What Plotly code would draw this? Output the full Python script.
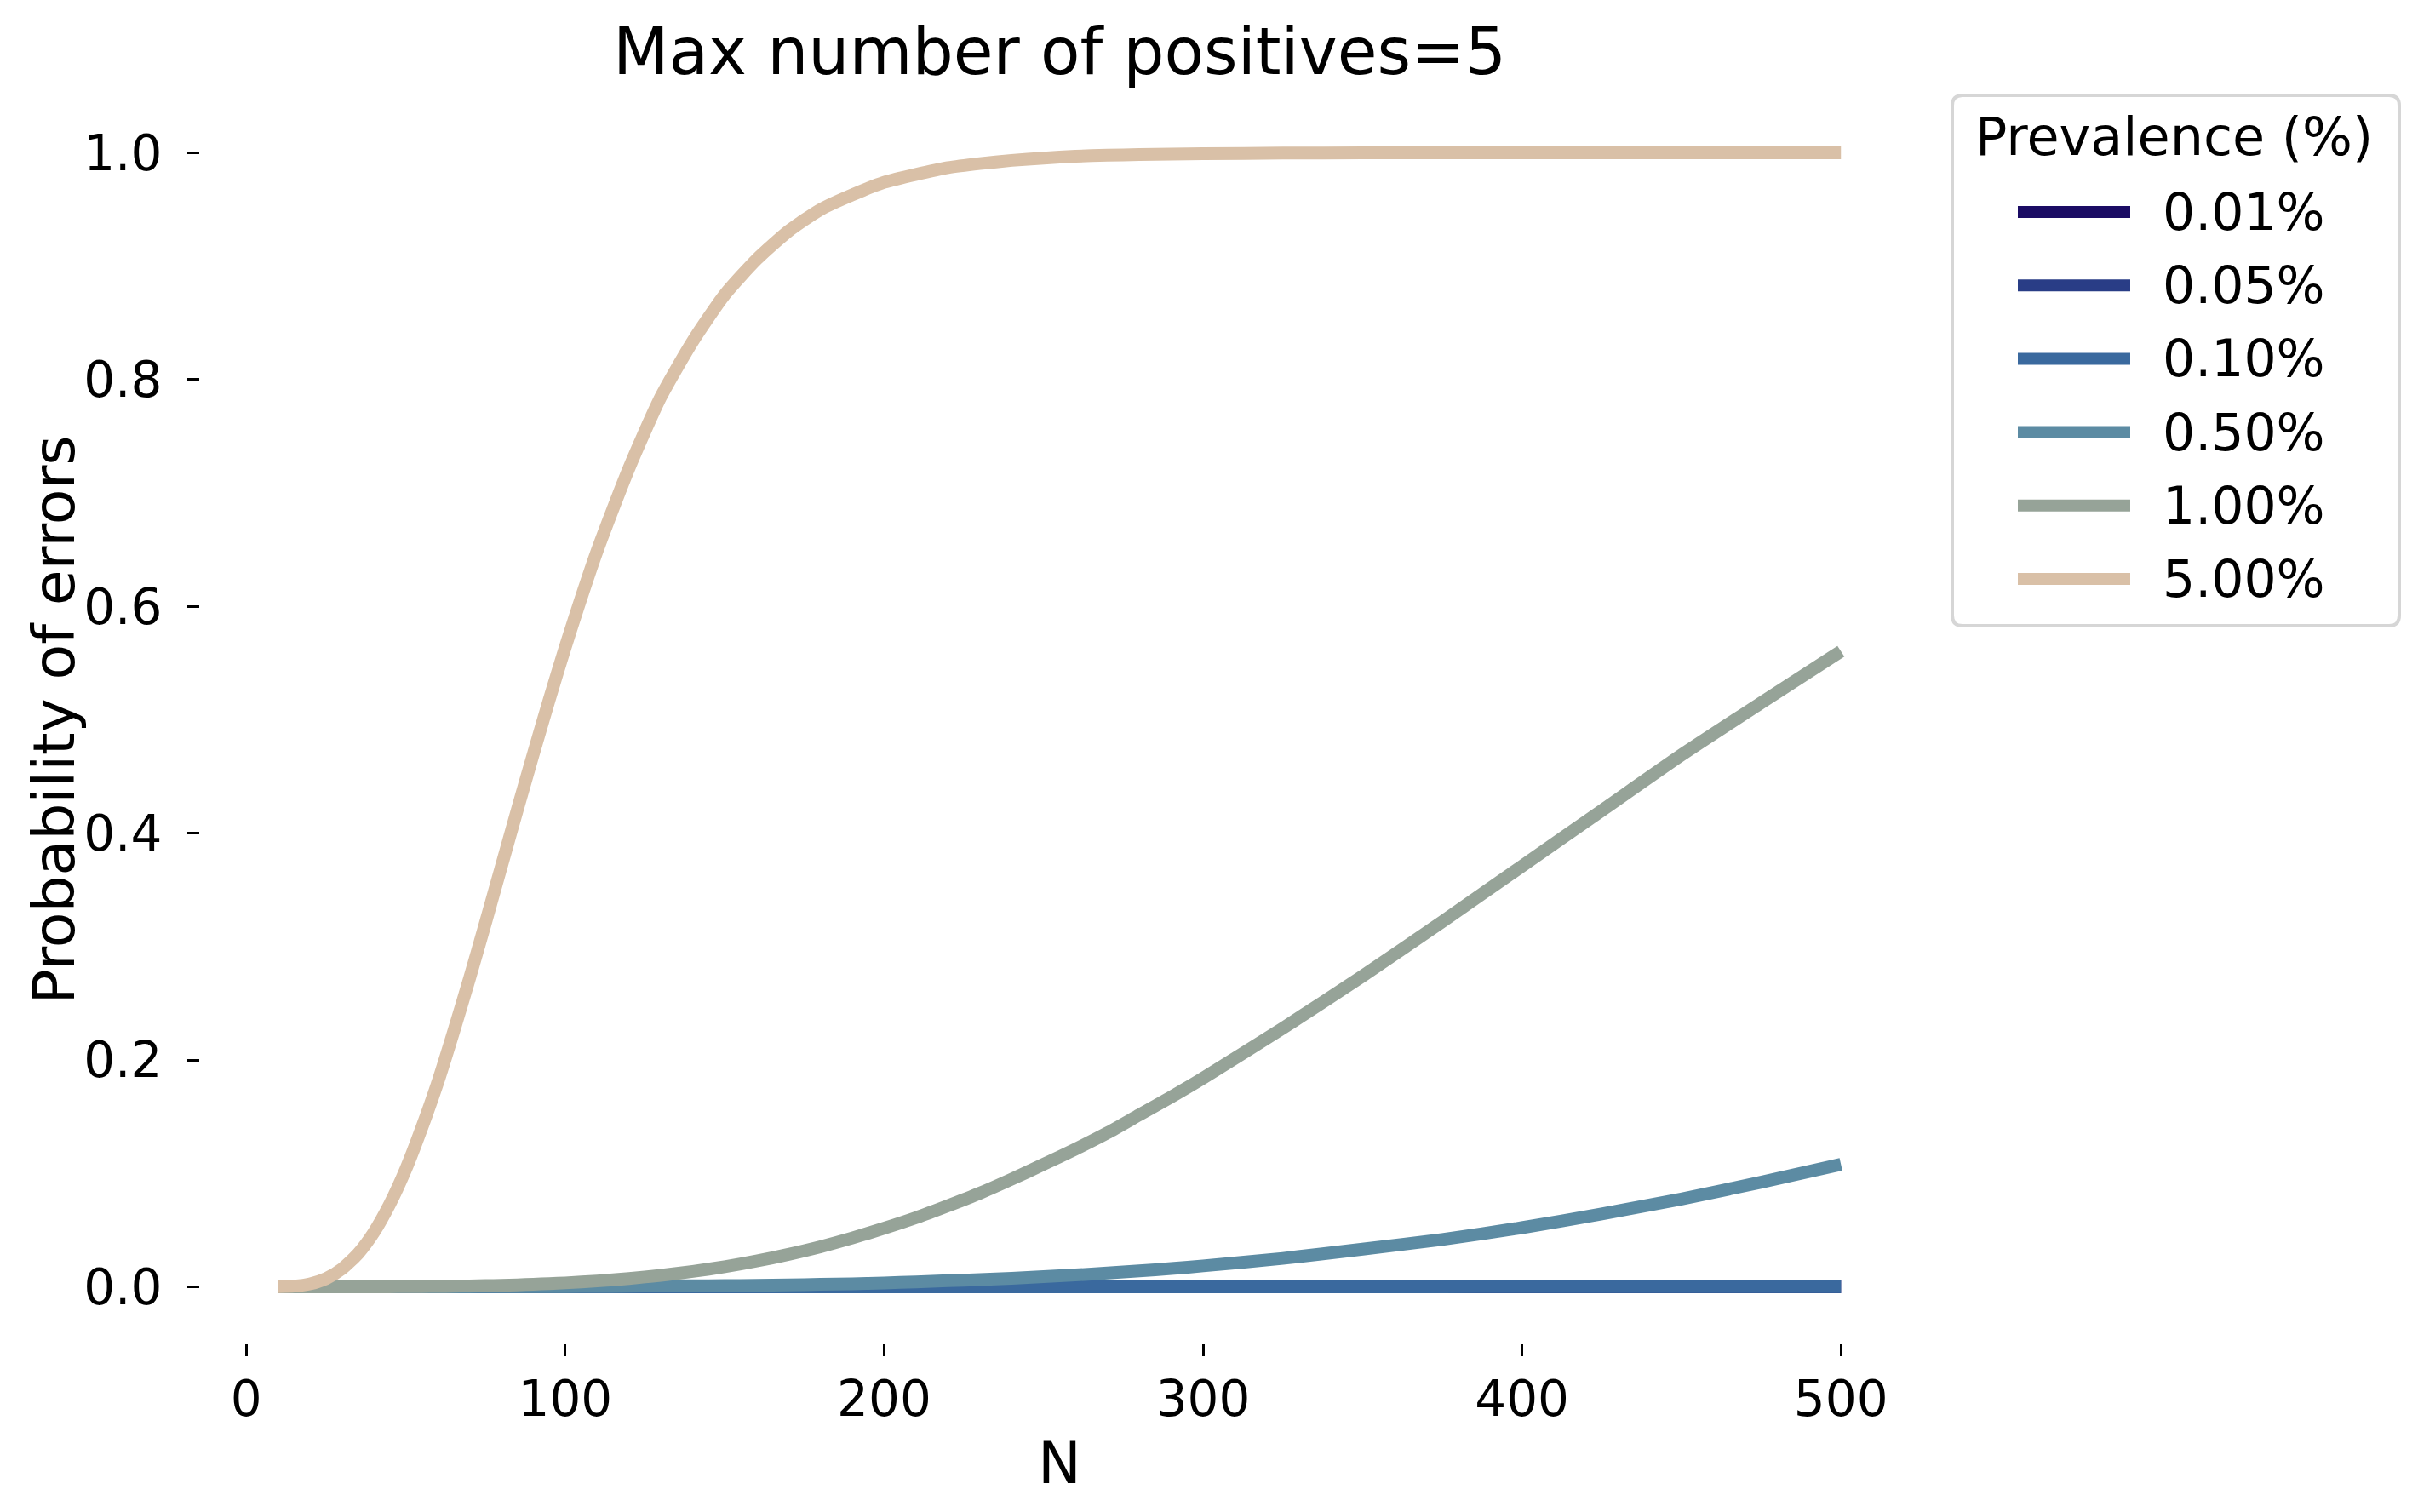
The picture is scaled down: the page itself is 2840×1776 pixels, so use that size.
import plotly.graph_objects as go

# sample sizes N (shared by all series)
n_values = [10, 15, 20, 25, 30, 35, 40, 45, 50, 55, 60, 65, 70, 75, 80, 85, 90, 95, 100,
            110, 120, 130, 140, 150, 160, 170, 180, 190, 200,
            210, 220, 230, 240, 250, 260, 270, 280, 290, 300,
            325, 350, 375, 400, 425, 450, 475, 500]

# probability of errors, one list per prevalence
p_001 = [0, 0, 0, 0, 0, 0, 0, 0, 0, 0, 0, 0, 0, 0, 0, 0, 0, 0, 0,
         0, 0, 0, 0, 0, 0, 0, 0, 0, 0,
         0, 0, 0, 0, 0, 0, 0, 0, 0, 0,
         0, 0, 0, 0, 0, 0, 0, 0]
p_005 = [0, 0, 0, 0, 0, 0, 0, 0, 0, 0, 0, 0, 0, 0, 0, 0, 0, 0, 0,
         0, 0, 0, 0, 0, 0, 0, 0, 0, 0,
         0, 0, 0, 0, 0, 0, 0, 0, 0, 0,
         0, 0, 0, 0, 0, 0, 0, 0]
p_010 = [0, 0, 0, 0, 0, 0, 0, 0, 0, 0, 0, 0, 0, 0, 0, 0, 0, 0, 0,
         0, 0, 0, 0, 0, 0, 0, 0, 0, 0,
         0, 0, 0, 0, 0, 0, 0, 0, 0, 0,
         0, 0, 0, 0.0001, 0.0001, 0.0001, 0.0001, 0.0002]
p_050 = [0, 0, 0, 0, 0, 0, 0, 0, 0, 0, 0, 0, 0, 0.0001, 0.0001, 0.0001, 0.0001, 0.0002, 0.0002,
         0.0003, 0.0005, 0.0007, 0.0009, 0.001, 0.0012, 0.0016, 0.0021, 0.0026, 0.0034,
         0.0043, 0.0053, 0.0063, 0.0075, 0.0089, 0.0104, 0.0121, 0.014, 0.016, 0.0184,
         0.025, 0.0332, 0.0417, 0.0521, 0.0643, 0.0774, 0.0922, 0.108]
p_100 = [0, 0, 0, 0, 0, 0, 0, 0, 0.0001, 0.0002, 0.0003, 0.0005, 0.0007, 0.001, 0.0013, 0.0017, 0.0022, 0.0028, 0.0034,
         0.0051, 0.0073, 0.0101, 0.0135, 0.0177, 0.0227, 0.0286, 0.0353, 0.043, 0.0516,
         0.0609, 0.0714, 0.0825, 0.0949, 0.108, 0.1214, 0.1357, 0.1516, 0.1674, 0.184,
         0.228, 0.274, 0.322, 0.371, 0.42, 0.469, 0.515, 0.5605]
p_500 = [0.0001, 0.0006, 0.0026, 0.0072, 0.0158, 0.0291, 0.048, 0.073, 0.1036, 0.14, 0.18, 0.225, 0.272, 0.321, 0.371, 0.421, 0.47, 0.518, 0.564,
         0.649, 0.722, 0.785, 0.834, 0.875, 0.906, 0.931, 0.95, 0.963, 0.974,
         0.981, 0.987, 0.9906, 0.9934, 0.9954, 0.997, 0.998, 0.9985, 0.999, 0.9993,
         0.9998, 1.0, 1.0, 1.0, 1.0, 1.0, 1.0, 1.0]

labels = ["0.01%", "0.05%", "0.10%", "0.50%", "1.00%", "5.00%"]
series = [p_001, p_005, p_010, p_050, p_100, p_500]
colors = ["#1b0c64", "#293d86", "#3a699e", "#5c8ba3", "#96a398", "#d9c0a7"]

font_family = "DejaVu Sans"
W, H = 2840, 1776
L, R, T, B = 235, 586, 113, 198
plot_w, plot_h = W - L - R, H - T - B


def px(x):
    # pixel column -> paper x
    return (x - L) / plot_w


def py(y):
    # pixel row (from top) -> paper y
    return (H - B - y) / plot_h


fig = go.Figure()
for label, ys, col in zip(labels, series, colors):
    fig.add_trace(go.Scatter(
        x=n_values, y=ys, mode="lines", name=label, showlegend=False,
        line=dict(color=col, width=15, shape="spline", smoothing=0.6),
    ))

# legend drawn by hand so the key lines keep the full line width
box_l, box_r, box_t, box_b, rad = 2293, 2818, 112, 735, 12
frame = (f"M{px(box_l + rad)},{py(box_t)} L{px(box_r - rad)},{py(box_t)} "
         f"Q{px(box_r)},{py(box_t)} {px(box_r)},{py(box_t + rad)} "
         f"L{px(box_r)},{py(box_b - rad)} Q{px(box_r)},{py(box_b)} {px(box_r - rad)},{py(box_b)} "
         f"L{px(box_l + rad)},{py(box_b)} Q{px(box_l)},{py(box_b)} {px(box_l)},{py(box_b - rad)} "
         f"L{px(box_l)},{py(box_t + rad)} Q{px(box_l)},{py(box_t)} {px(box_l + rad)},{py(box_t)} Z")
fig.add_shape(type="path", path=frame, xref="paper", yref="paper",
              line=dict(color="#d6d6d6", width=4), fillcolor="white", layer="above")
fig.add_annotation(text="Prevalence (%)", x=px(2553), y=py(160), xref="paper", yref="paper",
                   xanchor="center", yanchor="middle", showarrow=False, font=dict(size=62))
for i, (label, col) in enumerate(zip(labels, colors)):
    yy = 249 + i * 86.2
    fig.add_shape(type="line", x0=px(2370), x1=px(2502), y0=py(yy), y1=py(yy),
                  xref="paper", yref="paper", line=dict(color=col, width=14), layer="above")
    fig.add_annotation(text=label, x=px(2538), y=py(yy), xref="paper", yref="paper",
                       xanchor="left", yanchor="middle", showarrow=False, font=dict(size=60))

# y axis title placed directly
fig.add_annotation(text="Probability of errors", x=px(63), y=0.5, xref="paper", yref="paper",
                   xanchor="center", yanchor="middle", textangle=-90, showarrow=False,
                   font=dict(size=68))

fig.update_layout(
    width=W, height=H,
    margin=dict(l=L, r=R, t=T, b=B),
    paper_bgcolor="white", plot_bgcolor="white",
    font=dict(family=font_family, color="black", size=58),
    title=dict(text="Max number of positives=5", x=0.5, xref="paper",
               y=1 - 60 / H, yref="container", yanchor="middle",
               font=dict(size=76)),
    showlegend=False,
)

fig.update_xaxes(
    range=[-14.5, 524.5], tickvals=[0, 100, 200, 300, 400, 500],
    ticks="outside", ticklen=14, tickwidth=3, tickcolor="black",
    showline=False, showgrid=False, zeroline=False,
    title=dict(text="N", font=dict(size=68), standoff=18),
)
fig.update_yaxes(
    range=[-0.05, 1.05], tickvals=[0, 0.2, 0.4, 0.6, 0.8, 1.0], tickformat=".1f",
    ticks="outside", ticklen=14, tickwidth=3, tickcolor="black",
    showline=False, showgrid=False, zeroline=False,
    ticklabelstandoff=18,
)

fig.write_html("out.html", config={"displayModeBar": False},
               post_script="document.body.style.margin='0';")
